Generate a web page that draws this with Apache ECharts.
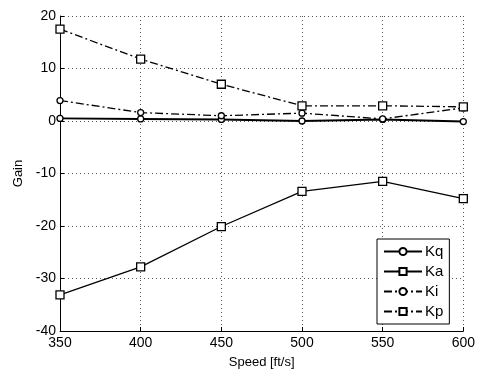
<!DOCTYPE html>
<html>
<head>
<meta charset="utf-8">
<script src="https://cdn.jsdelivr.net/npm/echarts@6/dist/echarts.min.js"></script>
<style>
  html, body { margin: 0; padding: 0; background: #fff; }
  #chart { width: 478px; height: 374px; }
</style>
</head>
<body>
<div id="chart"></div>
<script>
// speed in ft/s
const speeds = [350, 400, 450, 500, 550, 600];
// gains
const kq = [0.5, 0.4, 0.3, 0.0, 0.3, -0.1];
const ka = [-33.1, -27.8, -20.1, -13.4, -11.5, -14.8];
const ki = [3.9, 1.6, 1.0, 1.5, 0.4, 2.5];
const kp = [17.5, 11.8, 7.0, 2.9, 2.9, 2.7];

const font = 'Liberation Sans, Arial, Helvetica, sans-serif';
const dashDot = [8, 3, 2, 3];

const pairs = (ys) => speeds.map((x, i) => [x, ys[i]]);

const chart = echarts.init(document.getElementById('chart'), null, { renderer: 'canvas' });

const gridLine = {
  show: true,
  lineStyle: { color: '#555', type: [1, 3], width: 1 }
};

function makeSeries(name, ys, symbol, size, width, type) {
  return {
    name: name,
    type: 'line',
    data: pairs(ys),
    symbol: symbol,
    symbolSize: size,
    showSymbol: true,
    animation: false,
    lineStyle: { color: '#000', width: width, type: type },
    itemStyle: { color: '#fff', borderColor: '#000', borderWidth: 1.3 },
    emphasis: { disabled: true }
  };
}

chart.setOption({
  backgroundColor: '#fff',
  animation: false,
  grid: { left: 60, right: 13, top: 16, bottom: 39 },
  legend: {
    orient: 'vertical',
    left: 377,
    top: 239,
    width: 75,
    padding: [5, 6, 5, 6],
    itemGap: 5,
    itemWidth: 38,
    itemHeight: 9,
    backgroundColor: '#fff',
    borderColor: '#000',
    borderWidth: 1,
    borderRadius: 0,
    textStyle: { fontFamily: font, fontSize: 15, color: '#000', padding: [0, 0, 0, -2] },
    data: ['Kq', 'Ka', 'Ki', 'Kp']
  },
  xAxis: {
    type: 'value',
    min: 350,
    max: 600,
    interval: 50,
    name: 'Speed [ft/s]',
    nameLocation: 'middle',
    nameGap: 25,
    nameTextStyle: { fontFamily: font, fontSize: 13, color: '#000' },
    axisLine: { show: true, onZero: false, lineStyle: { color: '#000', width: 1 } },
    axisTick: { show: true, inside: true, length: 4, lineStyle: { color: '#000' } },
    axisLabel: { fontFamily: font, fontSize: 14, color: '#000', margin: 5 },
    splitLine: gridLine
  },
  yAxis: {
    type: 'value',
    min: -40,
    max: 20,
    interval: 10,
    name: 'Gain',
    nameLocation: 'middle',
    nameRotate: 90,
    nameGap: 34,
    nameTextStyle: { fontFamily: font, fontSize: 13, color: '#000' },
    axisLine: { show: true, onZero: false, lineStyle: { color: '#000', width: 1 } },
    axisTick: { show: true, inside: true, length: 4, lineStyle: { color: '#000' } },
    axisLabel: { fontFamily: font, fontSize: 14, color: '#000', margin: 4 },
    splitLine: gridLine
  },
  series: [
    makeSeries('Kq', kq, 'circle', 6, 2, 'solid'),
    makeSeries('Ka', ka, 'rect', 8, 1.3, 'solid'),
    makeSeries('Ki', ki, 'circle', 6, 1.3, dashDot),
    makeSeries('Kp', kp, 'rect', 8, 1.3, dashDot)
  ]
});
</script>
</body>
</html>
